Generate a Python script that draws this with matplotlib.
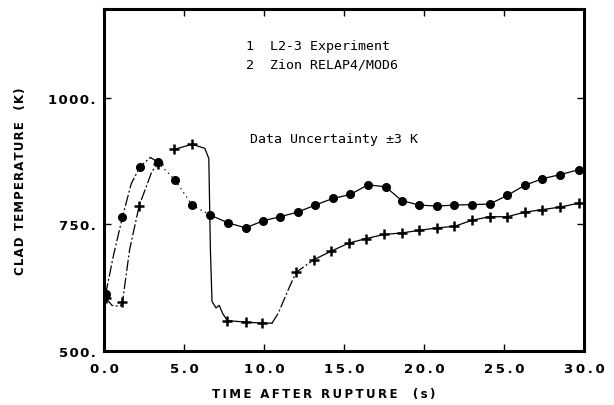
import numpy as np
import matplotlib
matplotlib.use('Agg')
from matplotlib import pyplot as plt

# curve with round markers (L2-3 experiment)
exp_t = [0.1, 0.6, 1.15, 1.7, 2.23, 2.9, 3.35, 4.45, 5.5, 6.65, 7.75, 8.85, 9.95, 11.0, 12.1,
         13.2, 14.3, 15.4, 16.5, 17.6, 18.6, 19.7, 20.8, 21.9, 23.0, 24.1, 25.2, 26.3, 27.4, 28.5, 29.7]
exp_T = [612, 690, 764, 830, 863, 882, 873, 837, 788, 768, 753, 743, 757, 765, 774,
         788, 801, 809, 828, 824, 797, 788, 786, 788, 789, 790, 807, 827, 840, 848, 858]

# curve with cross markers (Zion RELAP4/MOD6)
sim_t = [0.1, 0.5, 1.0, 1.15, 1.6, 2.2, 3.0, 3.4, 4.4, 5.5, 6.3, 6.55, 6.65, 6.75, 7.0, 7.2, 7.4,
         7.7, 8.85, 9.9, 10.5, 10.9, 11.5, 12.0, 13.1, 14.2, 15.3, 16.4, 17.5, 18.6, 19.7, 20.8,
         21.9, 23.0, 24.1, 25.2, 26.3, 27.4, 28.5, 29.7]
sim_T = [605, 590, 588, 596, 700, 787, 855, 870, 898, 908, 900, 880, 700, 598, 585, 590, 575,
         560, 557, 555, 555, 575, 620, 655, 680, 697, 713, 722, 730, 733, 738, 743,
         746, 758, 765, 765, 774, 779, 784, 792]

x_ticks = [0, 5, 10, 15, 20, 25, 30]
x_labels = ['0.0', '5.0', '10.0', '15.0', '20.0', '25.0', '30.0']
y_ticks = [500, 750, 1000]
y_labels = ['500.', '750.', '1000.']

dashdot = (0, (9, 2, 1.5, 2))

def spaced(s, gap='\u2009'):
    # old plotter lettering is widely spaced
    return gap.join(s)

fig = plt.figure(figsize=(6.14, 4.06), dpi=100)
ax = fig.add_axes([0.1694, 0.133, 0.7817, 0.8424])

def seg(t, T, i0, i1, ls):
    ax.plot(t[i0:i1 + 1], T[i0:i1 + 1], color='black', lw=0.9, ls=ls)

# experiment: dash-dot rise, dotted fall, then solid
seg(exp_t, exp_T, 0, 6, dashdot)
seg(exp_t, exp_T, 6, 9, (0, (1, 3)))
seg(exp_t, exp_T, 9, len(exp_t) - 1, '-')
exp_marks = [i for i in range(len(exp_t)) if i not in (1, 3, 5)]
ax.plot(exp_t, exp_T, ls='none', marker='o', ms=5.5, color='black', markevery=exp_marks)

# calculation
seg(sim_t, sim_T, 0, 7, dashdot)
seg(sim_t, sim_T, 8, 20, '-')
seg(sim_t, sim_T, 20, 24, dashdot)
seg(sim_t, sim_T, 24, len(sim_t) - 1, '-')
sim_marks = [0, 3, 5, 7, 8, 9, 17, 18, 19] + list(range(23, len(sim_t)))
ax.plot(sim_t, sim_T, ls='none', marker='+', ms=7, mew=1.8, color='black', markevery=sim_marks)

ax.set_xlim(0, 30)
ax.set_ylim(500, 1175)
ax.set_xticks(x_ticks)
ax.set_xticklabels([spaced(l) for l in x_labels], fontweight='bold', fontsize=9.5)
ax.set_yticks(y_ticks)
ax.set_yticklabels([spaced(l, '\u200a') for l in y_labels], fontweight='bold', fontsize=9.5)
ax.tick_params(direction='in', length=5, width=1, top=True, right=True)
ax.tick_params(axis='x', pad=8)
ax.tick_params(axis='y', pad=6)
for s in ax.spines.values():
    s.set_linewidth(2.2)

ax.set_xlabel(spaced('TIME AFTER RUPTURE  (s)'), fontweight='bold', fontsize=8.5)
ax.xaxis.set_label_coords(0.458, -0.105)
ax.set_ylabel(spaced('CLAD TEMPERATURE  (K)', '\u200a'), fontweight='bold', fontsize=8.5)
ax.yaxis.set_label_coords(-0.16, 0.5)

ax.text(8.9, 1103, '1  L2-3 Experiment', family='DejaVu Sans Mono', fontsize=9.5, va='center')
ax.text(8.9, 1067, '2  Zion RELAP4/MOD6', family='DejaVu Sans Mono', fontsize=9.5, va='center')
ax.text(9.1, 919, 'Data Uncertainty \u00b13 K', family='DejaVu Sans Mono', fontsize=9.5, va='center')

fig.savefig('out.png', dpi=100)
